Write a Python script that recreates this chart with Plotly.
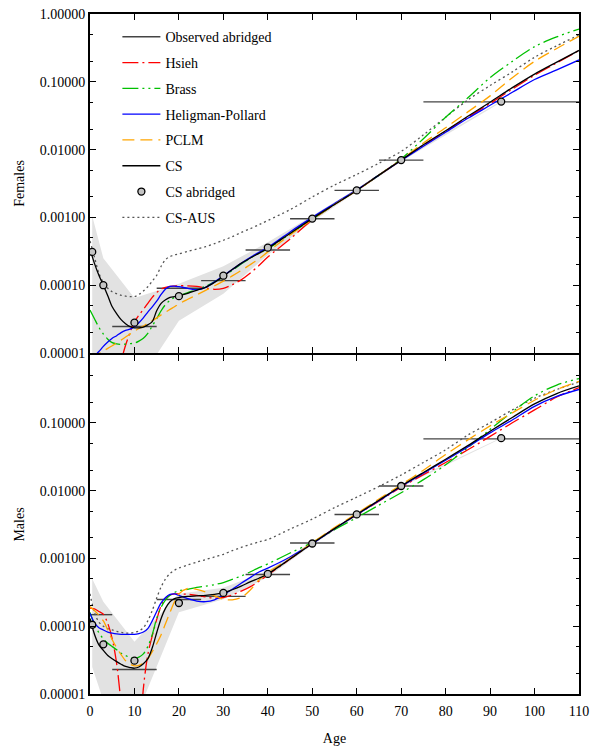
import plotly.graph_objects as go
from plotly.subplots import make_subplots

# ---------------------------------------------------------------- data
AGES = [0, 1, 2, 3, 4, 5, 6, 7, 8, 9, 10, 11, 12, 13, 14, 15, 16, 17, 18, 19, 20,
        22, 24, 26, 28, 30, 32, 34, 36, 38, 40, 45, 50, 55, 60, 65, 70, 75, 80,
        85, 90, 95, 100, 105, 110]

# Females: fitted death rates by method
F_HSIEH = [None, None, None, None, None, None, 4e-6, 7.5e-6, 1.3e-5, 2e-5, 2.9e-5,
           3.6e-5, 4.4e-5, 5.4e-5, 6.6e-5, 7.8e-5, 8.8e-5, 9.3e-5, 9.6e-5, 9.7e-5, 9.8e-5,
           9.8e-5, 9.6e-5, 9.1e-5, 8.7e-5, 9.0e-5, 1.02e-4, 1.2e-4, 1.5e-4, 1.95e-4, 2.6e-4,
           4.8e-4, 9.2e-4, 1.55e-3, 2.5e-3, 4.2e-3, 7.0e-3, 0.0115, 0.0185, 0.030, 0.048,
           0.078, 0.125, 0.19, 0.29]
F_BRASS = [4.3e-5, 3.2e-5, 2.4e-5, 1.9e-5, 1.6e-5, 1.42e-5, 1.36e-5, 1.34e-5, 1.35e-5,
           1.37e-5, 1.4e-5, 1.5e-5, 1.65e-5, 1.95e-5, 2.5e-5, 3.2e-5, 4.2e-5, 5.2e-5, 6.0e-5,
           6.6e-5, 7.0e-5, 7.8e-5, 8.6e-5, 9.6e-5, 1.12e-4, 1.33e-4, 1.65e-4, 2.05e-4, 2.5e-4,
           2.95e-4, 3.45e-4, 5.7e-4, 9.4e-4, 1.55e-3, 2.5e-3, 4.2e-3, 7.3e-3, 0.0145, 0.030,
           0.058, 0.115, 0.20, 0.33, 0.46, 0.60]
F_HP = [7.5e-6, 9e-6, 1.05e-5, 1.25e-5, 1.45e-5, 1.65e-5, 1.8e-5, 2.0e-5, 2.15e-5, 2.25e-5,
        2.45e-5, 2.8e-5, 3.3e-5, 4.0e-5, 4.8e-5, 5.8e-5, 7.3e-5, 8.8e-5, 9.6e-5, 9.7e-5,
        9.5e-5, 9.0e-5, 8.6e-5, 9.3e-5, 1.12e-4, 1.38e-4, 1.7e-4, 2.1e-4, 2.55e-4, 3.05e-4,
        3.6e-4, 6.1e-4, 1.0e-3, 1.6e-3, 2.55e-3, 4.2e-3, 6.9e-3, 0.0112, 0.018, 0.029,
        0.045, 0.07, 0.108, 0.15, 0.21]
F_PCLM = [8.3e-6, 9.0e-6, 9.8e-6, 1.07e-5, 1.17e-5, 1.28e-5, 1.4e-5, 1.55e-5, 1.72e-5,
          1.9e-5, 2.1e-5, 2.3e-5, 2.5e-5, 2.75e-5, 3.0e-5, 3.3e-5, 3.65e-5, 4.0e-5, 4.4e-5,
          4.8e-5, 5.3e-5, 6.2e-5, 7.2e-5, 8.4e-5, 9.8e-5, 1.15e-4, 1.37e-4, 1.65e-4, 2.0e-4,
          2.45e-4, 3.1e-4, 5.5e-4, 9.3e-4, 1.55e-3, 2.5e-3, 4.2e-3, 7.1e-3, 0.0125, 0.021,
          0.036, 0.062, 0.115, 0.20, 0.31, 0.47]
F_CS = [3.4e-4, 2.1e-4, 1.4e-4, 1.0e-4, 7e-5, 4.8e-5, 3.8e-5, 3.1e-5, 2.7e-5, 2.45e-5,
        2.35e-5, 2.35e-5, 2.4e-5, 2.6e-5, 2.9e-5, 4.2e-5, 5.4e-5, 6.1e-5, 6.6e-5, 6.8e-5,
        7.0e-5, 7.6e-5, 8.4e-5, 9.3e-5, 1.1e-4, 1.35e-4, 1.7e-4, 2.1e-4, 2.5e-4, 2.95e-4,
        3.5e-4, 5.8e-4, 9.6e-4, 1.55e-3, 2.5e-3, 4.2e-3, 7.0e-3, 0.0118, 0.019, 0.031,
        0.05, 0.082, 0.13, 0.195, 0.29]
F_AUS = [4.5e-4, 2.6e-4, 1.5e-4, 1.1e-4, 9.0e-5, 8.0e-5, 7.5e-5, 7.1e-5, 6.9e-5, 6.8e-5,
         6.8e-5, 7.3e-5, 8.2e-5, 9.5e-5, 1.15e-4, 1.4e-4, 1.9e-4, 2.4e-4, 2.65e-4, 2.8e-4,
         2.9e-4, 3.15e-4, 3.4e-4, 3.7e-4, 4.1e-4, 4.6e-4, 5.2e-4, 6.0e-4, 6.8e-4, 7.8e-4,
         9.0e-4, 1.3e-3, 2.0e-3, 3.0e-3, 4.3e-3, 6.3e-3, 9.4e-3, 0.0165, 0.030, 0.054,
         0.088, 0.14, 0.23, 0.34, 0.49]

# Males: fitted death rates by method
M_HSIEH = [1.85e-4, 1.8e-4, 1.65e-4, 1.5e-4, 1.1e-4, 6.5e-5, 2.8e-5, 7e-6, 1.5e-6, 1e-6,
           1e-6, 1.5e-6, 1.2e-5, 3.8e-5, 7.2e-5, 1.25e-4, 2.0e-4, 2.6e-4, 2.9e-4, 3.0e-4,
           3.0e-4, 2.95e-4, 2.85e-4, 2.7e-4, 2.6e-4, 2.65e-4, 2.9e-4, 3.3e-4, 3.8e-4, 4.6e-4,
           5.7e-4, 9.8e-4, 1.66e-3, 2.75e-3, 4.4e-3, 7.0e-3, 0.0112, 0.0172, 0.026, 0.040,
           0.063, 0.10, 0.155, 0.24, 0.33]
M_BRASS = [1.6e-4, 1.05e-4, 8.0e-5, 6.5e-5, 5.6e-5, 5.0e-5, 4.5e-5, 4.0e-5, 3.7e-5,
           3.45e-5, 3.35e-5, 3.5e-5, 3.9e-5, 5.0e-5, 7.5e-5, 1.3e-4, 1.9e-4, 2.45e-4, 2.85e-4,
           3.15e-4, 3.35e-4, 3.5e-4, 3.75e-4, 3.9e-4, 4.1e-4, 4.4e-4, 4.9e-4, 5.5e-4, 6.3e-4,
           7.3e-4, 8.3e-4, 1.2e-3, 1.72e-3, 2.65e-3, 4.0e-3, 6.1e-3, 9.3e-3, 0.0145, 0.024,
           0.043, 0.08, 0.145, 0.25, 0.36, 0.45]
M_HP = [1.55e-4, 1.12e-4, 9.5e-5, 8.8e-5, 8.2e-5, 7.9e-5, 7.7e-5, 7.6e-5, 7.6e-5, 7.6e-5,
        7.6e-5, 7.8e-5, 8.2e-5, 9.2e-5, 1.2e-4, 1.65e-4, 2.2e-4, 2.65e-4, 2.95e-4, 3.0e-4,
        2.85e-4, 2.55e-4, 2.35e-4, 2.3e-4, 2.45e-4, 2.9e-4, 3.5e-4, 4.3e-4, 5.2e-4, 6.3e-4,
        7.2e-4, 1.05e-3, 1.65e-3, 2.75e-3, 4.4e-3, 7.1e-3, 0.0115, 0.018, 0.028, 0.044,
        0.071, 0.11, 0.175, 0.245, 0.31]
M_PCLM = [1.95e-4, 1.7e-4, 1.45e-4, 1.2e-4, 8.8e-5, 6.3e-5, 4.8e-5, 3.8e-5, 3.1e-5,
          2.75e-5, 2.6e-5, 2.65e-5, 2.85e-5, 3.3e-5, 4.2e-5, 5.5e-5, 7.5e-5, 1.1e-4, 1.6e-4,
          2.3e-4, 3.0e-4, 3.6e-4, 3.5e-4, 3.2e-4, 2.8e-4, 2.5e-4, 2.45e-4, 2.65e-4, 3.4e-4,
          4.8e-4, 6.2e-4, 1.0e-3, 1.7e-3, 2.85e-3, 4.6e-3, 7.5e-3, 0.0122, 0.02, 0.034,
          0.056, 0.09, 0.14, 0.215, 0.31, 0.41]
M_CS = [1.3e-4, 7.6e-5, 5.3e-5, 4.4e-5, 3.7e-5, 3.3e-5, 3.0e-5, 2.75e-5, 2.55e-5, 2.45e-5,
        2.4e-5, 2.5e-5, 2.8e-5, 3.3e-5, 4.8e-5, 8e-5, 1.3e-4, 1.85e-4, 2.3e-4, 2.55e-4,
        2.65e-4, 2.75e-4, 2.8e-4, 2.85e-4, 2.95e-4, 3.1e-4, 3.45e-4, 3.9e-4, 4.5e-4, 5.1e-4,
        5.9e-4, 9.8e-4, 1.66e-3, 2.75e-3, 4.45e-3, 7.2e-3, 0.0117, 0.0185, 0.029, 0.046,
        0.075, 0.12, 0.19, 0.27, 0.35]
M_AUS = [3.0e-4, 1.6e-4, 1.15e-4, 1.0e-4, 9.2e-5, 8.8e-5, 8.4e-5, 8.1e-5, 7.9e-5, 7.9e-5,
         8.1e-5, 8.5e-5, 9.5e-5, 1.2e-4, 1.7e-4, 2.6e-4, 3.8e-4, 5.0e-4, 6.0e-4, 6.7e-4,
         7.2e-4, 8.0e-4, 8.8e-4, 9.6e-4, 1.05e-3, 1.15e-3, 1.3e-3, 1.45e-3, 1.6e-3, 1.75e-3,
         1.9e-3, 2.7e-3, 3.8e-3, 5.6e-3, 8.0e-3, 0.0115, 0.017, 0.026, 0.04, 0.066,
         0.10, 0.155, 0.23, 0.31, 0.40]

# Observed abridged rates (interval start, interval end, rate)
F_OBS_LO = [5, 15, 25, 35, 45, 55, 65, 75]
F_OBS_HI = [15, 25, 35, 45, 55, 65, 75, 110]
F_OBS = [2.46e-5, 9.0e-5, 1.17e-4, 3.31e-4, 9.57e-4, 2.5e-3, 7.0e-3, 0.0506]
M_OBS_LO = [0, 5, 15, 25, 35, 45, 55, 65, 75]
M_OBS_HI = [5, 15, 25, 35, 45, 55, 65, 75, 110]
M_OBS = [1.48e-4, 2.3e-5, 2.48e-4, 2.75e-4, 5.8e-4, 1.69e-3, 4.45e-3, 0.0117, 0.058]

# CS abridged rates at interval midpoints, with their uncertainty band
ABR_AGES = [0.5, 3, 10, 20, 30, 40, 50, 60, 70, 92.5]
F_ABR = [3.1e-4, 1.0e-4, 2.8e-5, 6.9e-5, 1.38e-4, 3.58e-4, 9.6e-4, 2.5e-3, 7.0e-3, 0.0511]
F_ABR_HI = [1.05e-3, 2.5e-4, 6.5e-5, 1.05e-4, 1.9e-4, 4.3e-4, 1.06e-3, 2.65e-3, 7.3e-3, 0.052]
F_ABR_LO = [4e-6, 4e-6, 3e-6, 3e-5, 7.5e-5, 2.8e-4, 8.6e-4, 2.38e-3, 6.7e-3, 0.050]
M_ABR = [1.05e-4, 5.4e-5, 3.1e-5, 2.2e-4, 3.1e-4, 5.9e-4, 1.66e-3, 4.45e-3, 0.0117, 0.0594]
M_ABR_HI = [5e-4, 2.3e-4, 5.9e-5, 3.0e-4, 3.7e-4, 6.6e-4, 1.76e-3, 4.65e-3, 0.0121, 0.060]
M_ABR_LO = [2.5e-5, 8e-6, 4e-6, 1.6e-4, 2.5e-4, 5.3e-4, 1.57e-3, 4.25e-3, 0.0113, 0.0585]

Y_TICKS = [1e-5, 1e-4, 1e-3, 1e-2, 1e-1, 1.0]
X_TICKS = list(range(0, 111, 10))

# ---------------------------------------------------------------- styles
FONT = "Liberation Serif"
STYLES = {
    "Hsieh": dict(color="#ff0000", dash="16px,4px,2px,4px"),
    "Brass": dict(color="#00c000", dash="16px,4px,2px,4px,2px,4px"),
    "Heligman-Pollard": dict(color="#0000ff", dash="solid"),
    "PCLM": dict(color="#ffa500", dash="12px,6px"),
    "CS": dict(color="#000000", dash="solid"),
    "CS-AUS": dict(color="#555555", dash="2px,3px"),
}
RANK = {"Observed abridged": 1, "Hsieh": 2, "Brass": 3, "Heligman-Pollard": 4,
        "PCLM": 5, "CS": 6, "CS abridged": 7, "CS-AUS": 8}

fig = make_subplots(rows=2, cols=1, shared_xaxes=True, vertical_spacing=0)


def add_panel(row, obs_lo, obs_hi, obs, abr, abr_hi, abr_lo, curves, show):
    # uncertainty band of the CS abridged rates
    fig.add_trace(go.Scatter(
        x=ABR_AGES + ABR_AGES[::-1], y=abr_hi + abr_lo[::-1],
        fill="toself", fillcolor="#e2e2e2", line=dict(width=0),
        mode="lines", showlegend=False, hoverinfo="skip"), row=row, col=1)

    # observed abridged rates as horizontal interval segments
    xs, ys = [], []
    for lo, hi, v in zip(obs_lo, obs_hi, obs):
        xs += [lo, hi, None]
        ys += [v, v, None]
    fig.add_trace(go.Scatter(
        x=xs, y=ys, mode="lines", name="Observed abridged",
        line=dict(color="#444444", width=1.4),
        legendgroup="Observed abridged", legendrank=RANK["Observed abridged"],
        showlegend=show), row=row, col=1)

    for name, vals in curves:
        st = STYLES[name]
        fig.add_trace(go.Scatter(
            x=AGES, y=vals, mode="lines", name=name,
            line=dict(color=st["color"], dash=st["dash"], width=1.3,
                      shape="spline", smoothing=0.9),
            legendgroup=name, legendrank=RANK[name], showlegend=show),
            row=row, col=1)

    fig.add_trace(go.Scatter(
        x=ABR_AGES, y=abr, mode="markers", name="CS abridged",
        marker=dict(size=7, color="#c4c4c4", line=dict(color="black", width=1.3)),
        legendgroup="CS abridged", legendrank=RANK["CS abridged"],
        showlegend=show), row=row, col=1)


add_panel(1, F_OBS_LO, F_OBS_HI, F_OBS, F_ABR, F_ABR_HI, F_ABR_LO,
          [("CS-AUS", F_AUS), ("Hsieh", F_HSIEH), ("Brass", F_BRASS),
           ("Heligman-Pollard", F_HP), ("PCLM", F_PCLM), ("CS", F_CS)], True)
add_panel(2, M_OBS_LO, M_OBS_HI, M_OBS, M_ABR, M_ABR_HI, M_ABR_LO,
          [("CS-AUS", M_AUS), ("Hsieh", M_HSIEH), ("Brass", M_BRASS),
           ("Heligman-Pollard", M_HP), ("PCLM", M_PCLM), ("CS", M_CS)], False)

axis_common = dict(showline=True, linewidth=2, linecolor="black", mirror="allticks",
                   ticks="inside", ticklen=6, tickwidth=1.3, tickcolor="black",
                   showgrid=False, zeroline=False, automargin=False,
                   tickfont=dict(family=FONT, size=14, color="black"))

fig.update_xaxes(range=[0, 110], tickvals=X_TICKS, **axis_common)
fig.update_xaxes(showticklabels=False, row=1, col=1)
fig.update_xaxes(ticklabelstandoff=3,
                 title=dict(text="Age", font=dict(family=FONT, size=14, color="black"),
                            standoff=21), row=2, col=1)

minor = dict(ticks="inside", ticklen=3, tickwidth=1, tickcolor="black", showgrid=False)
fig.update_yaxes(type="log", range=[-5, 0], minor=minor, **axis_common)
fig.update_yaxes(tickvals=Y_TICKS, ticktext=[f"{v:.5f}" for v in Y_TICKS],
                 domain=[0.5 + 1 / 680, 1.0],
                 title=dict(text="Females", font=dict(family=FONT, size=14, color="black"),
                            standoff=12), row=1, col=1)
fig.update_yaxes(tickvals=Y_TICKS[:-1], ticktext=[f"{v:.5f}" for v in Y_TICKS[:-1]],
                 domain=[0.0, 0.5 - 1 / 680],
                 title=dict(text="Males", font=dict(family=FONT, size=14, color="black"),
                            standoff=12), row=2, col=1)

fig.update_layout(
    width=596, height=746,
    margin=dict(l=90, r=17, t=14, b=52, autoexpand=False),
    plot_bgcolor="white", paper_bgcolor="white",
    font=dict(family=FONT, size=14, color="black"),
    legend=dict(x=0.056, y=0.9895, xanchor="left", yanchor="top",
                traceorder="grouped", tracegroupgap=4.6, itemwidth=38,
                bgcolor="rgba(0,0,0,0)", borderwidth=0,
                font=dict(family=FONT, size=14, color="black")),
)

fig.write_html("out.html")
